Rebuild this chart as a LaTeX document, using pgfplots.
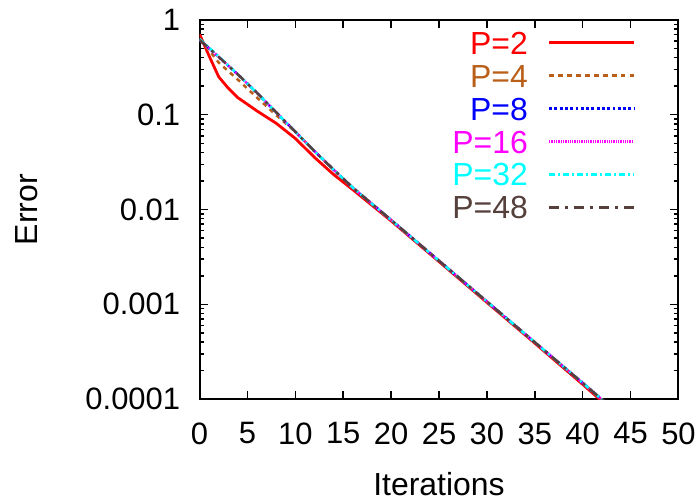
\documentclass[border=0pt]{standalone}
\usepackage{fontspec}
\setmainfont{Liberation Sans}
\usepackage{pgfplots}
\pgfplotsset{compat=1.18}
\definecolor{cP2}{RGB}{255,0,0}
\definecolor{cP4}{RGB}{185,95,25}
\definecolor{cP8}{RGB}{0,0,255}
\definecolor{cP16}{RGB}{255,0,255}
\definecolor{cP32}{RGB}{0,255,255}
\definecolor{cP48}{RGB}{85,64,60}
\begin{document}
\begin{tikzpicture}
\begin{axis}[
  scale only axis,
  width=480pt, height=380pt,
  ymode=log,
  xmin=0, xmax=50, ymin=1e-4, ymax=1,
  xtick={0,5,...,50},
  ytick={1e-4,1e-3,1e-2,1e-1,1},
  yticklabels={0.0001,0.001,0.01,0.1,1},
  /pgf/number format/assume math mode=true,
  font=\fontsize{32}{38}\selectfont,
  ticklabel style={font=\fontsize{31}{36}\selectfont},
  xticklabel style={yshift=-20pt},
  yticklabel style={xshift=-16pt},
  axis line style={line width=2pt, black},
  every tick/.style={black, line width=1.5pt},
  major tick length=8pt, minor tick length=4pt,
  xlabel={Iterations}, ylabel={Error},
  xlabel style={at={(axis description cs:0.5,-0.224)}, anchor=center},
  ylabel style={at={(axis description cs:-0.36,0.5)}, anchor=center},
  legend plot pos=right,
  legend cell align=right,
  legend image code/.code={\draw[#1] (0pt,0pt) -- (85pt,0pt);},
  legend style={at={(rel axis cs:0.910,0.970)}, anchor=north east,
    draw=none, fill=none, inner sep=0pt, outer sep=0pt,
    font=\fontsize{32}{38}\selectfont, row sep=10pt, column sep=20pt,
    nodes={inner sep=0pt, text height=23pt, text depth=0pt}},
]
\addplot[cP2, line width=2.8pt] coordinates {
 (0,0.7079) (1,0.4169) (2,0.2512) (3,0.1905) (4,0.1514) (6,0.1096) (8,0.0813)
 (10,0.0562) (12,0.0355) (14,0.0234) (16,0.0162) (20,0.00759) (25,0.00282)
 (30,0.001047) (35,0.000389) (40,0.000143) (43,0.0000776)};
\addlegendentry{\textcolor{cP2}{P=2}}
\addplot[cP4, line width=2.5pt, dash pattern=on 4.5pt off 4.5pt] coordinates {
 (0,0.6166) (1,0.4786) (2,0.3548) (4,0.2344) (6,0.1514) (8,0.0990)
 (10,0.0661) (12,0.0412) (14,0.0263) (16,0.0170) (20,0.00776) (25,0.00288)
 (30,0.00107) (35,0.000398) (40,0.000148) (43,0.0000813)};
\addlegendentry{\textcolor{cP4}{P=4}}
\addplot[cP8, line width=2.5pt, dash pattern=on 2.8pt off 2.5pt] coordinates {
 (0,0.6166) (2,0.4074) (4,0.2661) (6,0.1698) (8,0.1059)
 (10,0.0661) (12,0.0412) (14,0.0263) (16,0.0170) (20,0.00776) (25,0.00288)
 (30,0.00107) (35,0.000398) (40,0.000148) (43,0.0000813)};
\addlegendentry{\textcolor{cP8}{P=8}}
\addplot[cP16, line width=2.5pt, dash pattern=on 1.3pt off 1pt] coordinates {
 (0,0.6166) (2,0.4074) (4,0.2661) (6,0.1698) (8,0.1059)
 (10,0.0661) (12,0.0412) (14,0.0263) (16,0.0170) (20,0.00776) (25,0.00288)
 (30,0.00107) (35,0.000398) (40,0.000148) (43,0.0000813)};
\addlegendentry{\textcolor{cP16}{P=16}}
\addplot[cP32, line width=2.5pt, dash pattern=on 6pt off 3pt on 2pt off 3pt] coordinates {
 (0,0.6310) (2,0.4120) (4,0.2661) (6,0.1698) (8,0.1059)
 (10,0.0661) (12,0.0412) (14,0.0263) (16,0.0170) (20,0.00776) (25,0.00288)
 (30,0.00107) (35,0.000398) (40,0.000148) (43,0.0000813)};
\addlegendentry{\textcolor{cP32}{P=32}}
\addplot[cP48, line width=2.5pt, dash pattern=on 10pt off 6pt on 3pt off 6pt] coordinates {
 (0,0.6166) (2,0.4074) (4,0.2661) (6,0.1698) (8,0.1059)
 (10,0.0661) (12,0.0412) (14,0.0263) (16,0.0170) (20,0.00776) (25,0.00288)
 (30,0.00107) (35,0.000398) (40,0.000148) (43,0.0000813)};
\addlegendentry{\textcolor{cP48}{P=48}}
\end{axis}
\useasboundingbox (-200pt,-102pt) rectangle (499pt,400pt);
\end{tikzpicture}
\end{document}
